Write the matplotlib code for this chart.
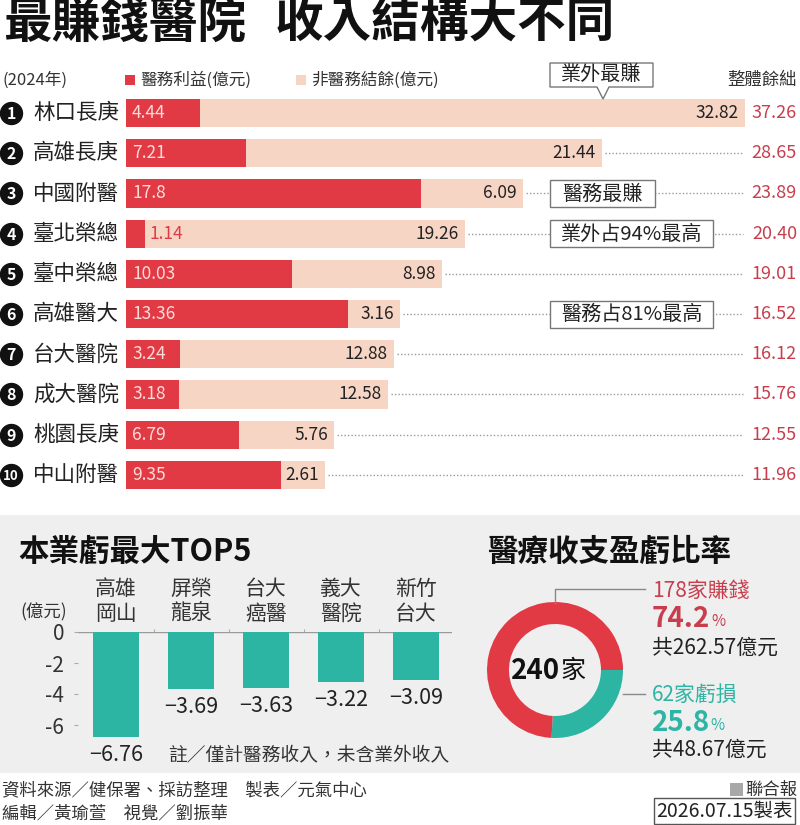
import matplotlib
matplotlib.use("Agg")
import matplotlib.pyplot as plt
from matplotlib.patches import Rectangle, Polygon

plt.rcParams['font.family'] = ['Noto Sans CJK TC', 'DejaVu Sans']

# ---------------- data ----------------
hospitals = ["林口長庚", "高雄長庚", "中國附醫", "臺北榮總", "臺中榮總",
             "高雄醫大", "台大醫院", "成大醫院", "桃園長庚", "中山附醫"]
medical = [4.44, 7.21, 17.8, 1.14, 10.03, 13.36, 3.24, 3.18, 6.79, 9.35]
nonmedical = [32.82, 21.44, 6.09, 19.26, 8.98, 3.16, 12.88, 12.58, 5.76, 2.61]
totals = [37.26, 28.65, 23.89, 20.40, 19.01, 16.52, 16.12, 15.76, 12.55, 11.96]
medical_lbl = ["4.44", "7.21", "17.8", "1.14", "10.03", "13.36", "3.24", "3.18", "6.79", "9.35"]
nonmed_lbl = ["32.82", "21.44", "6.09", "19.26", "8.98", "3.16", "12.88", "12.58", "5.76", "2.61"]
total_lbl = ["37.26", "28.65", "23.89", "20.40", "19.01", "16.52", "16.12", "15.76", "12.55", "11.96"]

notes_rows = [2, 3, 5]
notes_text = ["醫務最賺", "業外占94%最高", "醫務占81%最高"]

loss_names = ["高雄\n岡山", "屏榮\n龍泉", "台大\n癌醫", "義大\n醫院", "新竹\n台大"]
loss_values = [-6.76, -3.69, -3.63, -3.22, -3.09]
loss_ticks = [0, -2, -4, -6]

donut_values = [25.8, 74.2]   # loss, profit
donut_total = "240"

# ---------------- style ----------------
RED = "#e23a45"
PEACH = "#f7d5c5"
TEAL = "#2db5a4"
TOTRED = "#c83e4d"
DARK = "#222222"
GRAYBG = "#efefef"

W, H = 800, 825
fig = plt.figure(figsize=(8, 8.25), dpi=100)


def rect(x0, y0, x1, y1):
    return [x0 / W, 1 - y1 / H, (x1 - x0) / W, (y1 - y0) / H]


bg = fig.add_axes([0, 0, 1, 1], zorder=-10, label="bg")
bg.set_xlim(0, W); bg.set_ylim(H, 0); bg.axis("off")
fg = fig.add_axes([0, 0, 1, 1], zorder=20, label="fg")
fg.set_xlim(0, W); fg.set_ylim(H, 0); fg.axis("off"); fg.patch.set_alpha(0)

# gray panel
bg.add_patch(Rectangle((0, 515), W, 258, facecolor=GRAYBG, edgecolor="none"))

# title
fg.text(3, 23, "最賺錢醫院", fontsize=35, weight="bold",
        color="#111111", va="center", ha="left")
fg.text(275, 23, "收入結構大不同", fontsize=35, weight="bold",
        color="#111111", va="center", ha="left")

# legend row
fg.text(3, 80, "(2024年)", fontsize=12, color="#333333", va="center")
fg.add_patch(Rectangle((125, 75), 10, 10, facecolor=RED, edgecolor="none"))
fg.text(140, 80, "醫務利益(億元)", fontsize=12, color="#333333", va="center")
fg.add_patch(Rectangle((296, 75), 10, 10, facecolor=PEACH, edgecolor="none"))
fg.text(311, 80, "非醫務結餘(億元)", fontsize=12, color="#333333", va="center")
fg.text(797, 80, "整體餘絀", fontsize=12.5, color="#333333", va="center", ha="right")

# ---------------- horizontal stacked bars ----------------
SCALE = 16.6  # px per unit
X0 = 126
ax = fig.add_axes(rect(X0, 93, W, 495), zorder=5)
ax.patch.set_alpha(0)
ax.set_xlim(0, (W - X0) / SCALE)
ax.set_ylim(9.5, -0.5)
ax.axis("off")

rows = list(range(len(hospitals)))
ax.barh(rows, medical, height=0.7, color=RED, zorder=2)
ax.barh(rows, nonmedical, left=medical, height=0.7, color=PEACH, zorder=1)

px = 1 / SCALE
dot_end = (743 - X0) * px
for i in rows:
    tot = medical[i] + nonmedical[i]
    if medical[i] < 2:
        ax.text(medical[i] + 5 * px, i, medical_lbl[i], color=RED, fontsize=12.5,
                va="center", ha="left", zorder=3)
    else:
        ax.text(6 * px, i, medical_lbl[i], color="#fcdcd8", fontsize=12.5,
                va="center", ha="left", zorder=3)
    ax.text(tot - 6 * px, i, nonmed_lbl[i], color=DARK, fontsize=12.5,
            va="center", ha="right", zorder=3)
    ax.text((797 - X0) * px, i, total_lbl[i], color=TOTRED, fontsize=13,
            va="center", ha="right", clip_on=False, zorder=3)
    if tot + 3 * px < dot_end:
        ax.plot([tot + 3 * px, dot_end], [i, i], color="#9a9a9a", lw=1,
                linestyle=(0, (1, 1.5)), zorder=1)
    # name + rank circle
    ax.text(-7 * px, i, hospitals[i], color=DARK, fontsize=15.5, va="center",
            ha="right", clip_on=False)
    ax.scatter([(-115) * px], [i], s=250, color="#111111", clip_on=False, zorder=4)
    ax.text(-115 * px, i + 0.02, str(i + 1), color="white", weight="bold",
            fontsize=11.5 if i < 9 else 9.5, va="center", ha="center",
            clip_on=False, zorder=5)

box_left = (550 - X0) * px
box_w = [(655 - 550) * px, (713 - 550) * px, (713 - 550) * px]
for r, t, w in zip(notes_rows, notes_text, box_w):
    ax.add_patch(Rectangle((box_left, r - 0.335), w, 0.67, facecolor="white",
                           edgecolor="#777777", lw=1, zorder=6))
    ax.text(box_left + w / 2, r + 0.02, t, fontsize=14.5, color=DARK,
            va="center", ha="center", zorder=7)

# top callout with pointer
fg.add_patch(Polygon([(550, 63), (653, 63), (653, 87), (609, 87), (603, 99),
                      (597, 87), (550, 87)], closed=True, facecolor="white",
                     edgecolor="#777777", lw=1))
fg.text(601.5, 75, "業外最賺", fontsize=14.5, color=DARK, va="center", ha="center")

# ---------------- bottom-left: loss top5 ----------------
fg.text(18, 552, "本業虧最大TOP5", fontsize=22, weight="bold", color="#111111",
        va="center", ha="left")
PX2 = 15.5
bx = fig.add_axes(rect(78, 632, 452, 745), zorder=5)
bx.patch.set_alpha(0)
pos = list(range(len(loss_values)))
bx.bar(pos, loss_values, width=0.62, color=TEAL, zorder=2)
bx.set_xlim(-0.507, 4.48)
bx.set_ylim(-(745 - 632) / PX2, 0)
for s in bx.spines.values():
    s.set_visible(False)
bx.axhline(0, color="#9a9a9a", lw=1, zorder=1)
bx.set_xticks([])
bx.set_yticks(loss_ticks)
bx.set_yticklabels([str(v) for v in loss_ticks])
bx.tick_params(axis="y", length=3, width=0.8, color="#aaaaaa", pad=7,
               labelsize=15, labelcolor="#333333")
bx.vlines([p + 0.5 for p in pos[:-1]], 0, 0.2, color="#aaaaaa", lw=0.8,
          clip_on=False)
for p, v, n in zip(pos, loss_values, loss_names):
    bx.text(p, v - 18 / PX2, "\u2212" + f"{abs(v):.2f}", fontsize=15.5,
            color=DARK, ha="center", va="center")
    bx.text(p, 43 / PX2, n.split("\n")[0], fontsize=15, color="#333333",
            ha="center", va="center", clip_on=False)
    bx.text(p, 18 / PX2, n.split("\n")[1], fontsize=15, color="#333333",
            ha="center", va="center", clip_on=False)
fg.text(20, 612, "(億元)", fontsize=12.5, color="#333333", va="center", ha="left")
fg.text(168, 755, "註／僅計醫務收入，未含業外收入", fontsize=13.5, color="#333333",
        va="center", ha="left")

# ---------------- bottom-right: donut ----------------
fg.text(487, 552, "醫療收支盈虧比率", fontsize=22, weight="bold", color="#111111",
        va="center", ha="left")
R = 68
dx = fig.add_axes(rect(555 - 70, 670 - 70, 555 + 70, 670 + 70), zorder=5)
dx.patch.set_alpha(0)
dx.pie(donut_values, colors=[TEAL, RED], startangle=0, counterclock=False,
       radius=1, wedgeprops=dict(width=22 / R, edgecolor="none"))
lim = 70 / R
dx.set_xlim(-lim, lim); dx.set_ylim(-lim, lim)
dx.set_aspect("equal")
dx.text(0.08, -0.02, donut_total, fontsize=20, weight="bold", color="#111111",
        ha="right", va="center")
dx.text(0.08, -0.02, "家", fontsize=18, color="#111111", ha="left", va="center")

# leader lines
fg.plot([555, 555, 645], [603, 589, 589], color="#888888", lw=1)
fg.plot([623, 645], [694, 694], color="#888888", lw=1)

fg.text(652, 591, "178家賺錢", fontsize=15, color=TOTRED, va="center", ha="left")
t1 = fg.text(652, 619, "74.2", fontsize=20, weight="bold", color=TOTRED,
             va="center", ha="left")
fg.annotate("%", xy=(1, 0), xycoords=t1, xytext=(0.5, 2), textcoords="offset points",
            fontsize=11, color=TOTRED, va="bottom", ha="left")
fg.text(652, 648, "共262.57億元", fontsize=15, color=DARK, va="center", ha="left")
fg.text(652, 695, "62家虧損", fontsize=15, color=TEAL, va="center", ha="left")
t2 = fg.text(652, 723, "25.8", fontsize=20, weight="bold", color=TEAL,
             va="center", ha="left")
fg.annotate("%", xy=(1, 0), xycoords=t2, xytext=(0.5, 2), textcoords="offset points",
            fontsize=11, color=TEAL, va="bottom", ha="left")
fg.text(652, 750, "共48.67億元", fontsize=15, color=DARK, va="center", ha="left")

# ---------------- footer ----------------
fg.text(2, 790, "資料來源／健保署、採訪整理　製表／元氣中心", fontsize=12.5,
        color="#333333", va="center", ha="left")
fg.text(2, 813, "編輯／黃瑜萱　視覺／劉振華", fontsize=12.5, color="#333333",
        va="center", ha="left")
fg.add_patch(Rectangle((730, 783), 13, 13, facecolor="#a8a8a8", edgecolor="none"))
fg.text(797, 790, "聯合報", fontsize=12.5, color="#333333", va="center", ha="right")
fg.text(793, 811, "2026.07.15製表", fontsize=14, color="#222222", va="center",
        ha="right", bbox=dict(boxstyle="square,pad=0.12", facecolor="white",
                              edgecolor="#555555", lw=1))

fig.savefig("out.png", dpi=100)
